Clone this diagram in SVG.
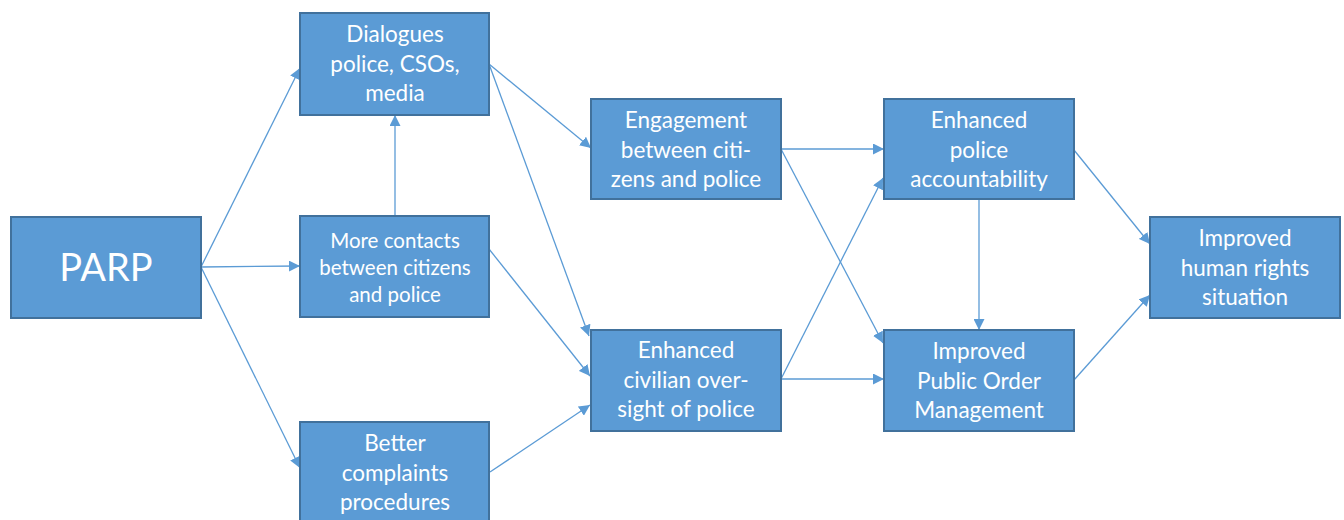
<svg xmlns="http://www.w3.org/2000/svg" width="1344" height="520" viewBox="0 0 1344 520">
  <style>
    .box { fill: #5B9BD5; stroke: #41719C; stroke-width: 2; }
    .lbl { fill: #FFFFFF; font-family: Lato, "Open Sans", "Liberation Sans", sans-serif; font-size: 22.5px; text-anchor: middle; }
    .sm { font-size: 20.5px; }
    .big { font-size: 38px; }
    .conn line { stroke: #5B9BD5; stroke-width: 1.3; fill: none; marker-end: url(#arrow); }
  </style>
  <defs>
    <marker id="arrow" viewBox="0 0 10 10" refX="10" refY="5" markerWidth="11" markerHeight="11" markerUnits="userSpaceOnUse" orient="auto">
      <path d="M0,0 L10,5 L0,10 Z" fill="#5B9BD5"/>
    </marker>
  </defs>
  <rect width="1344" height="520" fill="#FFFFFF"/>

  <g class="conn" id="connectors">
    <line x1="201" y1="267" x2="300" y2="68"/>
    <line x1="201" y1="267" x2="300" y2="266"/>
    <line x1="201" y1="267" x2="300" y2="468"/>
    <line x1="395" y1="216" x2="395" y2="115"/>
    <line x1="489" y1="64" x2="591" y2="148"/>
    <line x1="489" y1="64" x2="589" y2="336"/>
    <line x1="489" y1="249" x2="590" y2="376"/>
    <line x1="490" y1="472" x2="590" y2="405"/>
    <line x1="781" y1="149" x2="884" y2="149"/>
    <line x1="781" y1="149" x2="883" y2="343"/>
    <line x1="781" y1="379" x2="883" y2="178"/>
    <line x1="781" y1="379" x2="884" y2="379"/>
    <line x1="979" y1="199" x2="979" y2="330"/>
    <line x1="1074" y1="150" x2="1150" y2="244"/>
    <line x1="1074" y1="380" x2="1150" y2="295"/>
  </g>

  <g id="parp">
    <rect class="box" x="11" y="217" width="190" height="101"/>
    <text class="lbl big" x="106" y="281">PARP</text>
  </g>

  <g id="dialogues">
    <rect class="box" x="300" y="13" width="189" height="102"/>
    <text class="lbl" x="395" y="42">Dialogues</text>
    <text class="lbl" x="395" y="72">police, CSOs,</text>
    <text class="lbl" x="395" y="101">media</text>
  </g>

  <g id="more-contacts">
    <rect class="box" x="300" y="216" width="189" height="101"/>
    <text class="lbl sm" x="395" y="248">More contacts</text>
    <text class="lbl sm" x="395" y="275">between citizens</text>
    <text class="lbl sm" x="395" y="302">and police</text>
  </g>

  <g id="better-complaints">
    <rect class="box" x="300" y="422" width="189" height="102"/>
    <text class="lbl" x="395" y="451">Better</text>
    <text class="lbl" x="395" y="481">complaints</text>
    <text class="lbl" x="395" y="510">procedures</text>
  </g>

  <g id="engagement">
    <rect class="box" x="591" y="99" width="190" height="100"/>
    <text class="lbl" x="686" y="128">Engagement</text>
    <text class="lbl" x="686" y="158">between citi-</text>
    <text class="lbl" x="686" y="187">zens and police</text>
  </g>

  <g id="civilian-oversight">
    <rect class="box" x="591" y="330" width="190" height="101"/>
    <text class="lbl" x="686" y="358">Enhanced</text>
    <text class="lbl" x="686" y="388">civilian over-</text>
    <text class="lbl" x="686" y="417">sight of police</text>
  </g>

  <g id="police-accountability">
    <rect class="box" x="884" y="99" width="190" height="100"/>
    <text class="lbl" x="979" y="128">Enhanced</text>
    <text class="lbl" x="979" y="158">police</text>
    <text class="lbl" x="979" y="187">accountability</text>
  </g>

  <g id="public-order">
    <rect class="box" x="884" y="330" width="190" height="101"/>
    <text class="lbl" x="979" y="359">Improved</text>
    <text class="lbl" x="979" y="389">Public Order</text>
    <text class="lbl" x="979" y="418">Management</text>
  </g>

  <g id="human-rights">
    <rect class="box" x="1150" y="217" width="190" height="101"/>
    <text class="lbl" x="1245" y="246">Improved</text>
    <text class="lbl" x="1245" y="276">human rights</text>
    <text class="lbl" x="1245" y="305">situation</text>
  </g>
</svg>
